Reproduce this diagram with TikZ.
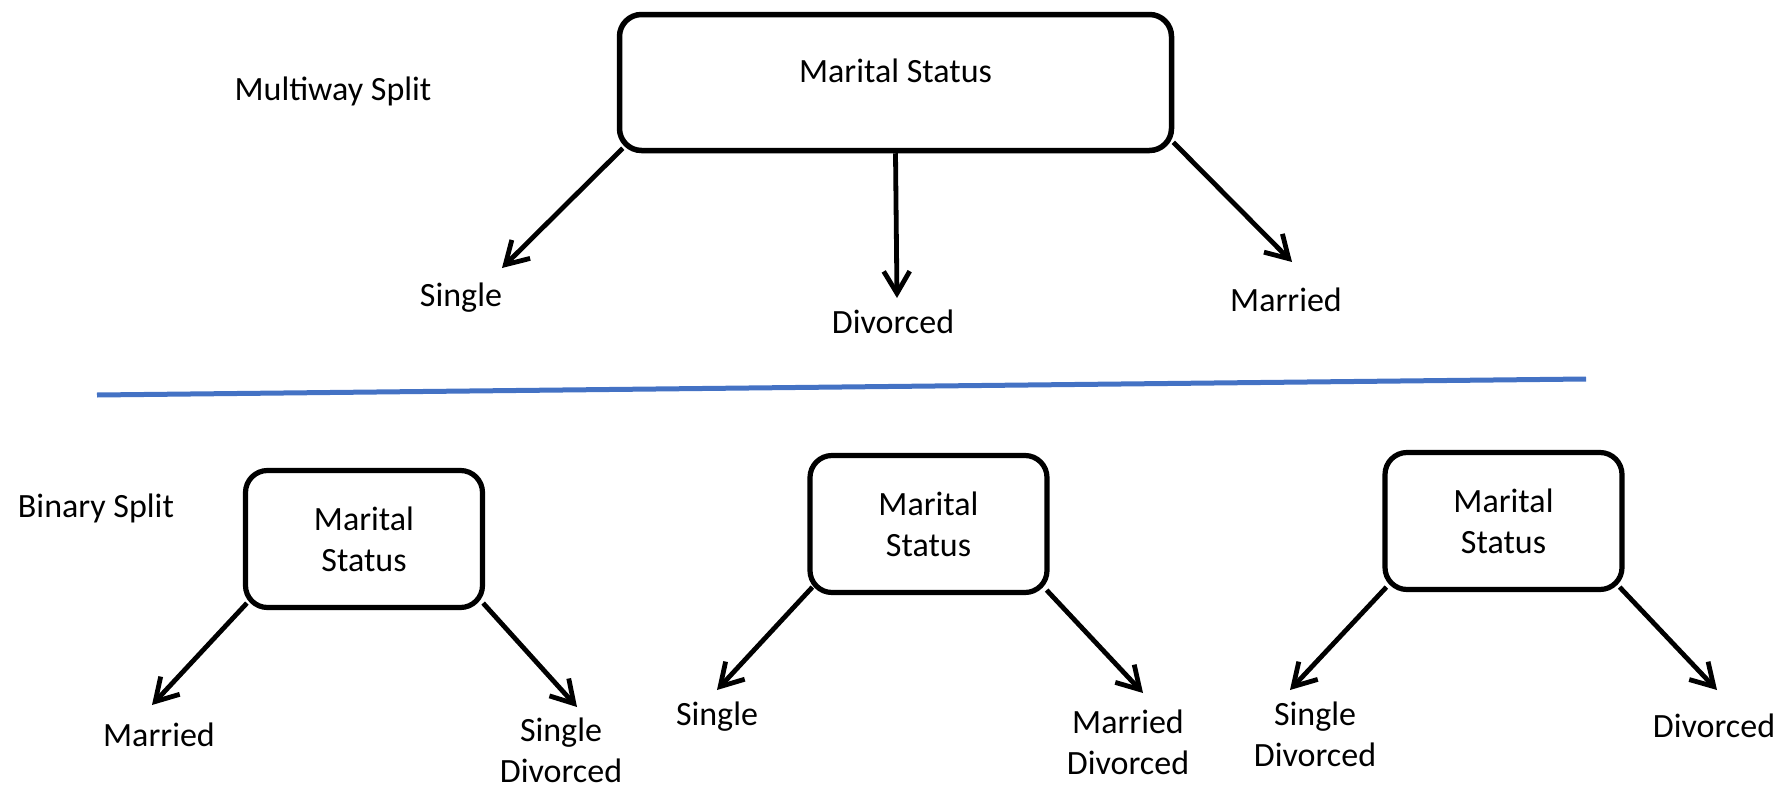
\documentclass[tikz,border=0pt]{standalone}
\usepackage{fontspec}
\setmainfont{Carlito}
\usetikzlibrary{arrows.meta,calc}
\definecolor{divblue}{HTML}{4472C4}
\begin{document}
\begin{tikzpicture}[x=0.5pt,y=-0.5pt,
  lbl/.style={font=\fontsize{17}{20.5}\selectfont, inner sep=0pt, align=center},
  bigbox/.style={draw, line width=2.75pt, rounded corners=11pt, minimum width=276pt,
    minimum height=68pt, inner sep=0pt, font=\fontsize{17}{20.5}\selectfont,
    text height=12pt, text depth=12.5pt},
  smallbox/.style={draw, line width=2.6pt, rounded corners=11pt, minimum width=118.5pt,
    minimum height=68.5pt, inner sep=0pt, align=center, font=\fontsize{17}{20.5}\selectfont},
  arr/.style={line width=2.4pt, -{Straight Barb[length=11pt,width=13pt]}},
  sep/.style={draw=divblue, line width=2.5pt}]
\useasboundingbox (0,0) rectangle (1783,787);

% top (multiway) part
\node[bigbox] (top) at (895.5,82.5) {Marital Status};
\node[lbl, anchor=base] (multi) at (333,100) {Multiway Split};
\node[lbl, anchor=base] (tsingle) at (461,306) {Single};
\node[lbl, anchor=base] (tdiv) at (893,333) {Divorced};
\node[lbl, anchor=base] (tmar) at (1286,311) {Married};

\coordinate (t1) at (502,268);
\coordinate (t2) at (897,298);
\coordinate (t3) at (1292,262);
\draw[arr] ($(top.south west)+(6,-5)$) -- (t1);
\draw[arr] (top.south) -- (t2);
\draw[arr] ($(top.south east)+(-1,-11)$) -- (t3);

% separator
\coordinate (sepL) at (97,395);
\coordinate (sepR) at (1586,379);
\draw[sep] (sepL) -- (sepR);

% bottom (binary) part
\node[lbl, anchor=base] (binary) at (96,517) {Binary Split};
\node[smallbox] (b1) at (364,539) {Marital\\Status};
\node[smallbox] (b2) at (928.5,524) {Marital\\Status};
\node[smallbox] (b3) at (1503.5,521) {Marital\\Status};

\node[lbl, anchor=base] (b1l) at (159,746) {Married};
\node[lbl] (b1r) at (561,750) {Single\\Divorced};
\node[lbl, anchor=base] (b2l) at (717,725) {Single};
\node[lbl] (b2r) at (1128,742) {Married\\Divorced};
\node[lbl] (b3l) at (1315,734) {Single\\Divorced};
\node[lbl, anchor=base] (b3r) at (1714,737) {Divorced};

\coordinate (t4) at (152,705);
\coordinate (t5) at (577,707);
\coordinate (t6) at (717,690);
\coordinate (t7) at (1143,693);
\coordinate (t8) at (1290,690);
\coordinate (t9) at (1717,690);
\draw[arr] ($(b1.south west)+(4,-7)$) -- (t4);
\draw[arr] ($(b1.south east)+(-2,-7)$) -- (t5);
\draw[arr] ($(b2.south west)+(5,-8)$) -- (t6);
\draw[arr] ($(b2.south east)+(-3,-5)$) -- (t7);
\draw[arr] ($(b3.south west)+(4,-5)$) -- (t8);
\draw[arr] ($(b3.south east)+(-5,-5)$) -- (t9);
\end{tikzpicture}
\end{document}
